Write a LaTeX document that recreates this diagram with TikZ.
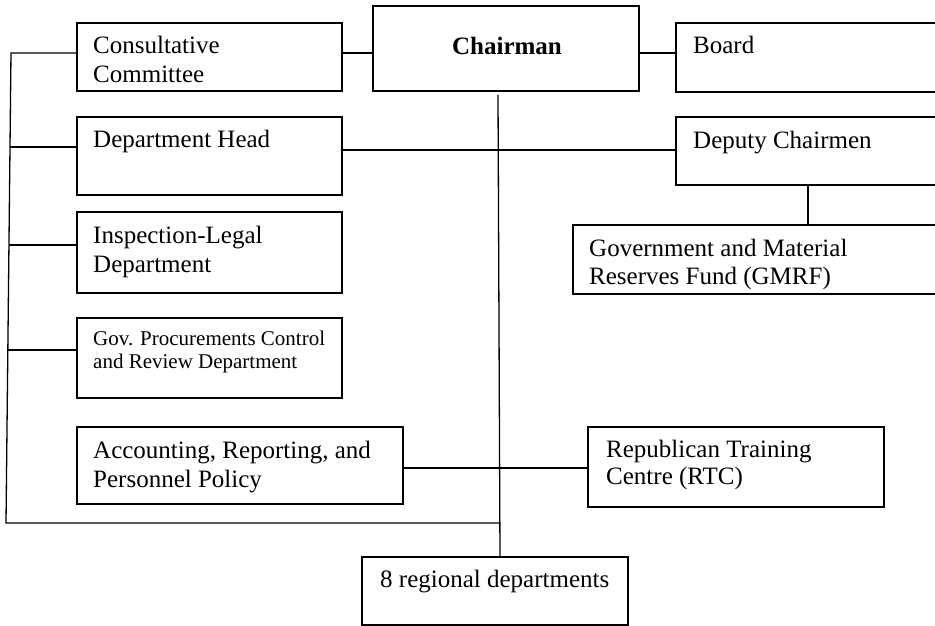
\documentclass[tikz,border=0pt]{standalone}
\usepackage{fontspec}
\setmainfont{Liberation Serif}
\begin{document}
\begin{tikzpicture}[x=1pt, y=-1pt,
  box/.style={draw, line width=1.4pt, inner sep=0pt, outer sep=0pt, anchor=north west},
  link/.style={draw, line width=1.3pt},
  txt/.style={inner sep=0pt, anchor=base west, font=\fontsize{25}{28}\selectfont},
  smalltxt/.style={inner sep=0pt, anchor=base west, font=\fontsize{21}{24}\selectfont}]
\clip (0,0) rectangle (935,626);
\fill[white] (0,0) rectangle (935,626);

% boxes
\node[box, minimum width=265pt, minimum height=68pt] (cc)    at (77,23)  {};
\node[box, minimum width=266pt, minimum height=85pt] (chair) at (373,6)  {};
\node[box, minimum width=270pt, minimum height=69pt] (board) at (676,23) {};
\node[box, minimum width=265pt, minimum height=78pt] (dh)    at (77,117) {};
\node[box, minimum width=270pt, minimum height=68pt] (dep)   at (676,117) {};
\node[box, minimum width=265pt, minimum height=81pt] (il)    at (77,212) {};
\node[box, minimum width=372pt, minimum height=69pt] (gm)    at (573,225) {};
\node[box, minimum width=265pt, minimum height=80pt] (gp)    at (77,318) {};
\node[box, minimum width=326pt, minimum height=77pt] (acc)   at (77,427) {};
\node[box, minimum width=296pt, minimum height=80pt] (rtc)   at (588,427) {};
\node[box, minimum width=266pt, minimum height=68pt] (reg)   at (362,557) {};

% labels
\node[txt] (cc1) at (93,54) {Consultative};
\node[txt] (cc2) at (93,82) {Committee};
\node[txt, anchor=base, font=\fontsize{25}{28}\selectfont\bfseries] (chair1) at (507,55) {Chairman};
\node[txt] (board1) at (693,54) {Board};
\node[txt] (dh1) at (93,147) {Department Head};
\node[txt] (dep1) at (693,148) {Deputy Chairmen};
\node[txt] (il1) at (93,243) {Inspection-Legal};
\node[txt] (il2) at (93,272) {Department};
\begin{scope}
  \clip (573,225) rectangle (945,288);
  \node[txt] (gm1) at (589,256) {Government and Material};
  \node[txt] (gm2) at (589,284) {Reserves Fund (GMRF)};
\end{scope}
\node[smalltxt] (gp1) at (93,345) {Gov. Procurements Control};
\node[smalltxt] (gp2) at (93,368) {and Review Department};
\node[txt] (acc1) at (93,458) {Accounting, Reporting, and};
\node[txt] (acc2) at (93,487) {Personnel Policy};
\node[txt] (rtc1) at (606,457) {Republican Training};
\node[txt] (rtc2) at (606,484) {Centre (RTC)};
\node[txt] (reg1) at (380,587) {8 regional departments};

% left bus and its branch points
\coordinate (bustop) at (11,53);
\coordinate (bus2) at (10,147);
\coordinate (bus3) at (9,245);
\coordinate (bus4) at (7.8,350);
\coordinate (busbot) at (6,523);
\coordinate (busend) at (499,523);
\draw[link, line join=miter] ([yshift=4pt]cc.west) -- (bustop) -- (busbot) -- (busend);
\draw[link] ([yshift=9pt]dh.west) -- (bus2);
\draw[link] ([yshift=7.5pt]il.west) -- (bus3);
\draw[link] ([yshift=8pt]gp.west) -- (bus4);

% top row links
\draw[link] ([yshift=4pt]cc.east) -- ([yshift=4pt]cc.east -| chair.west);
\draw[link] ([yshift=-4.5pt]chair.east) -- ([yshift=-4.5pt]chair.east -| board.west);

% chairman trunk
\draw[link] ([xshift=-8pt,yshift=-4pt]chair.south) -- ([xshift=5pt]reg.north);

% cross links
\draw[link] ([yshift=6pt]dh.east) -- ([yshift=6pt]dh.east -| dep.west);
\draw[link] ([xshift=-3pt]dep.south) -- ([xshift=-3pt]dep.south |- gm.north);
\draw[link] ([yshift=-2.5pt]acc.east) -- ([yshift=-2.5pt]acc.east -| rtc.west);
\end{tikzpicture}
\end{document}
